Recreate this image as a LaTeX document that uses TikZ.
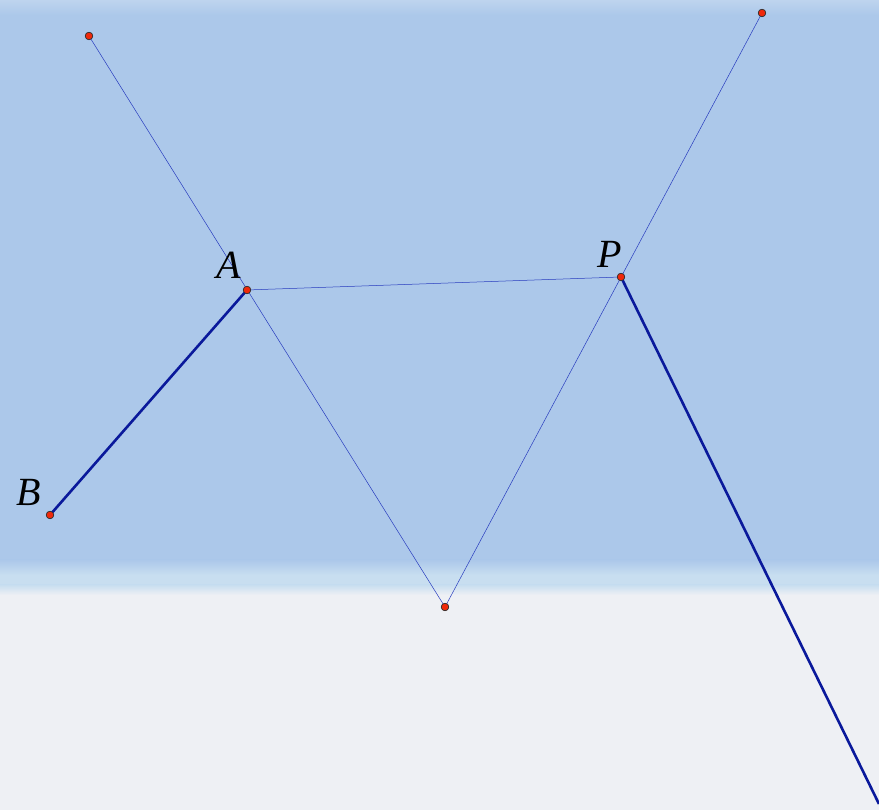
\documentclass[tikz,border=0pt]{standalone}
\usepackage{fontspec}
\setmainfont{Liberation Serif}
\definecolor{skyblue}{RGB}{172,200,234}
\definecolor{skytop}{RGB}{190,212,238}
\definecolor{bandblue}{RGB}{200,222,240}
\definecolor{paper}{RGB}{238,240,244}
\definecolor{thinblue}{RGB}{40,60,190}
\definecolor{thickblue}{RGB}{10,25,155}
\definecolor{ptred}{RGB}{240,40,10}
\begin{document}
\begin{tikzpicture}[x=1pt,y=1pt,
  pt/.style={circle,fill=ptred,draw=black!80,line width=0.6pt,inner sep=0pt,minimum size=7.5pt},
  thinline/.style={draw=thinblue,line width=0.5pt},
  thickline/.style={draw=thickblue,line width=2.6pt},
  lbl/.style={font=\fontsize{40}{40}\selectfont\itshape,inner sep=0pt}]
\useasboundingbox (0,0) rectangle (879,810);
% background
\fill[paper] (0,0) rectangle (879,810);
\fill[skyblue] (0,245) rectangle (879,810);
\shade[top color=skyblue,bottom color=bandblue] (0,235) rectangle (879,250);
\fill[bandblue] (0,225) rectangle (879,235);
\shade[top color=bandblue,bottom color=paper] (0,215) rectangle (879,225);
\shade[top color=skytop,bottom color=skyblue] (0,795) rectangle (879,810);
% points
\coordinate (E) at (879,6);
\node[pt] (T1) at (89,774) {};
\node[pt] (A) at (247,520) {};
\node[pt] (B) at (50,295) {};
\node[pt] (C) at (445,203) {};
\node[pt] (P) at (621,533) {};
\node[pt] (T2) at (762,797) {};
% lines
\path[thinline] (T1.center) -- (C.center);
\path[thinline] (T2.center) -- (C.center);
\path[thinline] (A.center) -- (P.center);
\path[thickline] (A.center) -- (B.center);
\path[thickline] (P.center) -- (E);
% redraw points on top
\foreach \q in {T1,A,B,C,P,T2} {\node[pt] at (\q) {};}
% labels
\node[lbl] (LA) at (229,545) {A};
\node[lbl] (LP) at (610,556) {P};
\node[lbl] (LB) at (29,318) {B};
\end{tikzpicture}
\end{document}
